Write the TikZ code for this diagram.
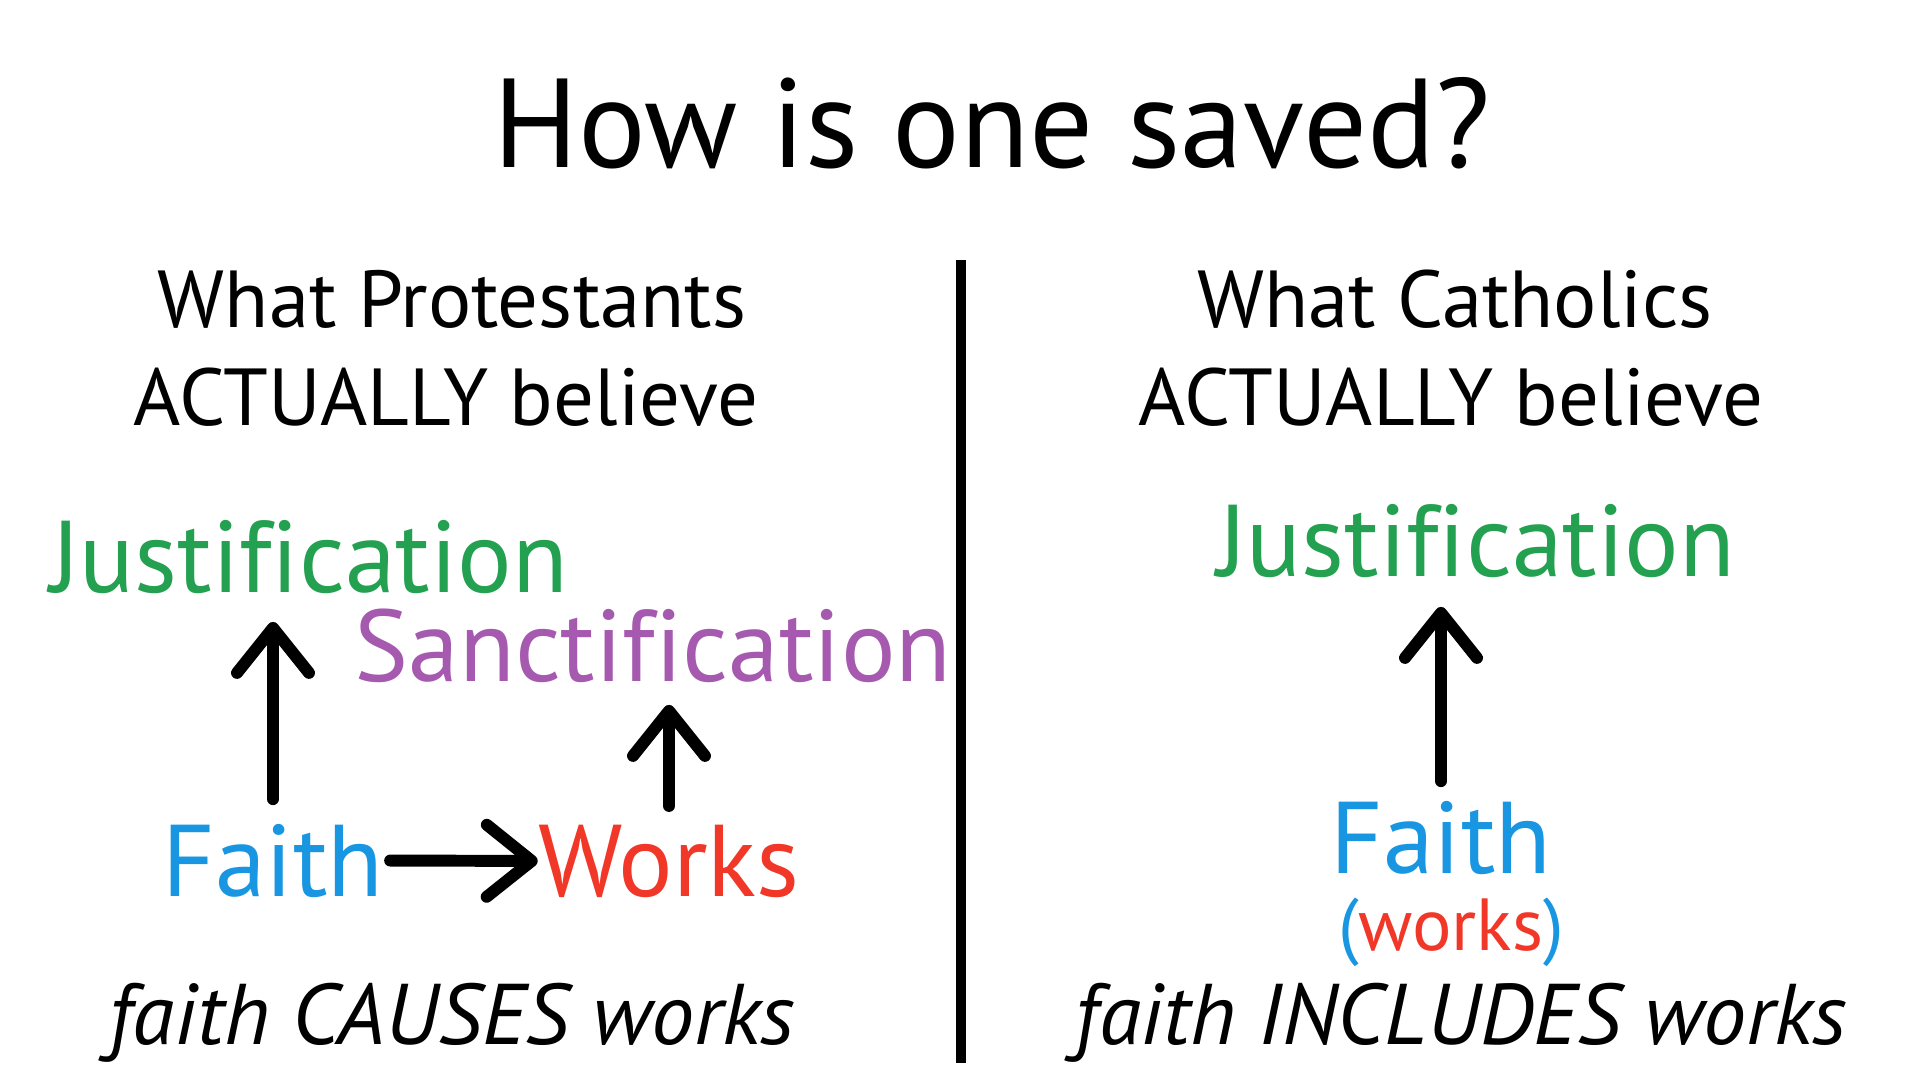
\documentclass[tikz,border=0pt]{standalone}
\usepackage{fontspec}
\setmainfont[Ligatures=NoCommon]{PT Sans}
\usepackage{tikz}
\usetikzlibrary{arrows.meta}
\definecolor{justgreen}{RGB}{35,160,80}
\definecolor{sanctpurple}{RGB}{165,90,175}
\definecolor{faithblue}{RGB}{25,150,225}
\definecolor{worksred}{RGB}{240,55,40}

\begin{document}
\begin{tikzpicture}[
  word/.style={anchor=base, inner sep=0pt},
  head/.style={word, font=\fontsize{23}{25}\selectfont},
  key/.style={word, font=\fontsize{29}{32}\selectfont},
  note/.style={word, font=\fontsize{24.5}{27}\selectfont\itshape},
  arr/.style={-{Straight Barb[length=0.45cm, width=0.72cm, round]}, line width=3.4pt, line cap=round}
]
\useasboundingbox[fill=white] (0,0) rectangle (19.25,-10.8);

\node[word, font=\fontsize{36}{40}\selectfont] (title) at (9.92,-1.68) {How is one saved?};
\draw[line width=0.1cm] (9.61,-2.6) -- (9.61,-10.63);

% left side
\node[head] (protA) at (4.52,-3.28) {What Protestants};
\node[head] (protB) at (4.46,-4.26) {ACTUALLY believe};
\node[key, text=justgreen] (justL) at (3.09,-5.93) {Justification};
\node[key, text=sanctpurple] (sanct) at (6.53,-6.81) {Sanctification};
\node[key, text=faithblue] (faithL) at (2.73,-8.96) {Faith};
\node[key, text=worksred] (works) at (6.69,-8.96) {Works};
\node[note] (causes) at (4.52,-10.44) {faith CAUSES works};
\draw[arr, shorten <=0.24cm, shorten >=0.27cm] (faithL.north) -- (faithL.north |- justL.south);
\draw[arr, shorten <=0.06cm] (faithL.east) -- (works.west);
\draw[arr, shorten <=0.18cm, shorten >=0.22cm] (works.north) -- (works.north |- sanct.south);

% right side
\node[head] (cathA) at (14.55,-3.28) {What Catholics};
\node[head] (cathB) at (14.51,-4.26) {ACTUALLY believe};
\node[key, text=justgreen] (justR) at (14.76,-5.77) {Justification};
\node[key, text=faithblue] (faithR) at (14.41,-8.73) {Faith};
\node[word, font=\fontsize{21}{23}\selectfont] (incl) at (14.51,-9.50) {\textcolor{faithblue}{(}\textcolor{worksred}{works}\textcolor{faithblue}{)}};
\node[note] (includes) at (14.61,-10.44) {faith INCLUDES works};
\draw[arr, shorten <=0.19cm, shorten >=0.28cm] (faithR.north) -- (faithR.north |- justR.south);
\end{tikzpicture}
\end{document}
